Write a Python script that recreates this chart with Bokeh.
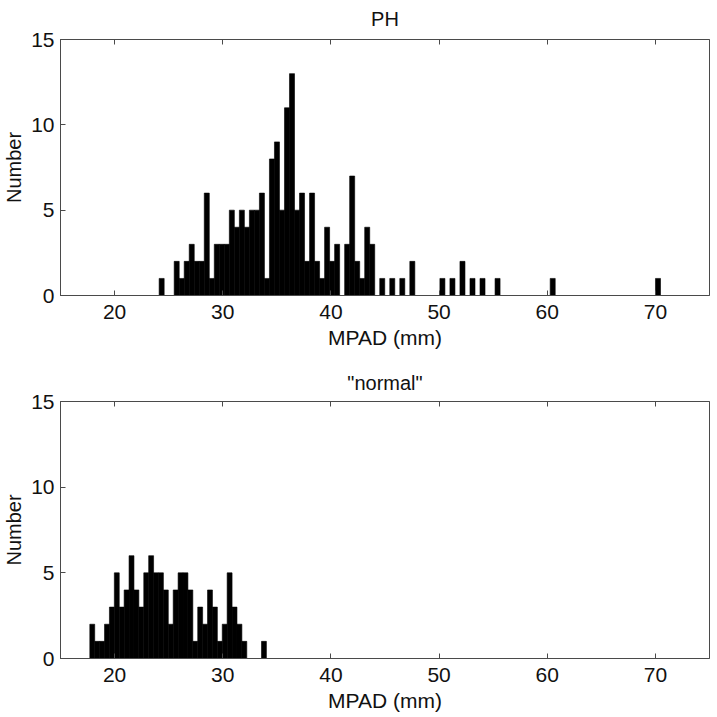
from bokeh.plotting import figure
from bokeh.layouts import column
from bokeh.models import (LinearAxis, FixedTicker, Range1d, ColumnDataSource,
                          CustomJSTickFormatter)
from bokeh.embed import file_html
from bokeh.resources import INLINE

# ---- data ----
ph_title = "PH"
ph_bin_start = 24.12      # mm, left edge of first bin
ph_bin_width = 0.4635     # mm
ph_counts = [1, 0, 0, 2, 1, 2, 3, 2, 2, 6,
             1, 3, 3, 3, 5, 4, 5, 4, 5, 5,
             6, 1, 8, 9, 5, 11, 13, 5, 6, 2,
             6, 2, 1, 4, 2, 3, 0, 3, 7, 2,
             1, 4, 3, 0, 1, 0, 1, 0, 1, 0,
             2, 0, 0, 0, 0, 0, 1, 0, 1, 0,
             2, 0, 1, 0, 1, 0, 0, 1, 0, 0,
             0, 0, 0, 0, 0, 0, 0, 0, 1, 0,
             0, 0, 0, 0, 0, 0, 0, 0, 0, 0,
             0, 0, 0, 0, 0, 0, 0, 0, 0, 1]

normal_title = '"normal"'
normal_bin_start = 17.71
normal_bin_width = 0.4535
normal_counts = [2, 1, 1, 2, 3, 5, 3, 4, 6, 4,
                 3, 5, 6, 5, 5, 4, 2, 4, 5, 5,
                 4, 1, 3, 2, 4, 3, 1, 2, 5, 3,
                 2, 1, 0, 0, 0, 1]

x_ticks = [20, 30, 40, 50, 60, 70]
y_ticks = [0, 5, 10, 15]
x_range = (15, 75)
y_range = (0, 15)
x_label = "MPAD (mm)"
y_label = "Number"

FONT = "Liberation Sans"
AX_COLOR = "#4a4a4a"
TXT = "#111111"


def style_axis(ax, ticks, size="21px", show_labels=True):
    ax.ticker = FixedTicker(ticks=ticks)
    ax.major_tick_in = 5
    ax.major_tick_out = 0
    ax.minor_tick_in = 0
    ax.minor_tick_out = 0
    ax.axis_line_color = AX_COLOR
    ax.major_tick_line_color = AX_COLOR
    ax.axis_line_width = 1
    ax.major_label_text_font = FONT
    ax.major_label_text_color = TXT
    ax.axis_label_text_font = FONT
    ax.axis_label_text_font_style = "normal"
    ax.axis_label_text_color = TXT
    if show_labels:
        ax.major_label_text_font_size = size
    else:
        ax.formatter = CustomJSTickFormatter(code="return ''")
        ax.major_label_text_font_size = "1px"
        ax.major_label_standoff = 0
        ax.axis_label_standoff = 0


def panel(title, start, width, counts, height, border_top, border_bottom,
          title_standoff):
    lefts = [start + i * width for i in range(len(counts))]
    rights = [l + width for l in lefts]
    src = ColumnDataSource(dict(left=lefts, right=rights, top=counts,
                                bottom=[0] * len(counts)))
    p = figure(width=710, height=height, output_backend="svg",
               toolbar_location=None, x_range=Range1d(*x_range),
               y_range=Range1d(*y_range), title=title,
               min_border_left=57, min_border_right=1,
               min_border_top=border_top, min_border_bottom=border_bottom)
    p.quad(left="left", right="right", top="top", bottom="bottom", source=src,
           fill_color="black", line_color="black", line_width=0.6)
    p.grid.visible = False
    p.outline_line_color = AX_COLOR
    p.outline_line_width = 1
    p.background_fill_color = "white"
    p.border_fill_color = "white"

    style_axis(p.xaxis[0], x_ticks)
    style_axis(p.yaxis[0], y_ticks)
    p.xaxis[0].axis_label = x_label
    p.xaxis[0].axis_label_text_font_size = "21px"
    p.xaxis[0].axis_label_standoff = 4
    p.xaxis[0].major_label_standoff = 9
    p.yaxis[0].axis_label = y_label
    p.yaxis[0].axis_label_text_font_size = "20px"
    p.yaxis[0].axis_label_standoff = 3
    p.yaxis[0].major_label_standoff = 6

    top_ax = LinearAxis()
    style_axis(top_ax, x_ticks, show_labels=False)
    p.add_layout(top_ax, "above")

    p.title.text_font = FONT
    p.title.text_font_size = "20px"
    p.title.text_font_style = "normal"
    p.title.text_color = TXT
    p.title.align = "center"
    p.title.vertical_align = "top"
    p.title.standoff = title_standoff
    return p


p1 = panel(ph_title, ph_bin_start, ph_bin_width, ph_counts, 359, 39, 64, 15)
p2 = panel(normal_title, normal_bin_start, normal_bin_width, normal_counts,
           355, 42, 56, 12)

layout = column(p1, p2, spacing=0)
open("out.html", "w").write(file_html(layout, INLINE))
